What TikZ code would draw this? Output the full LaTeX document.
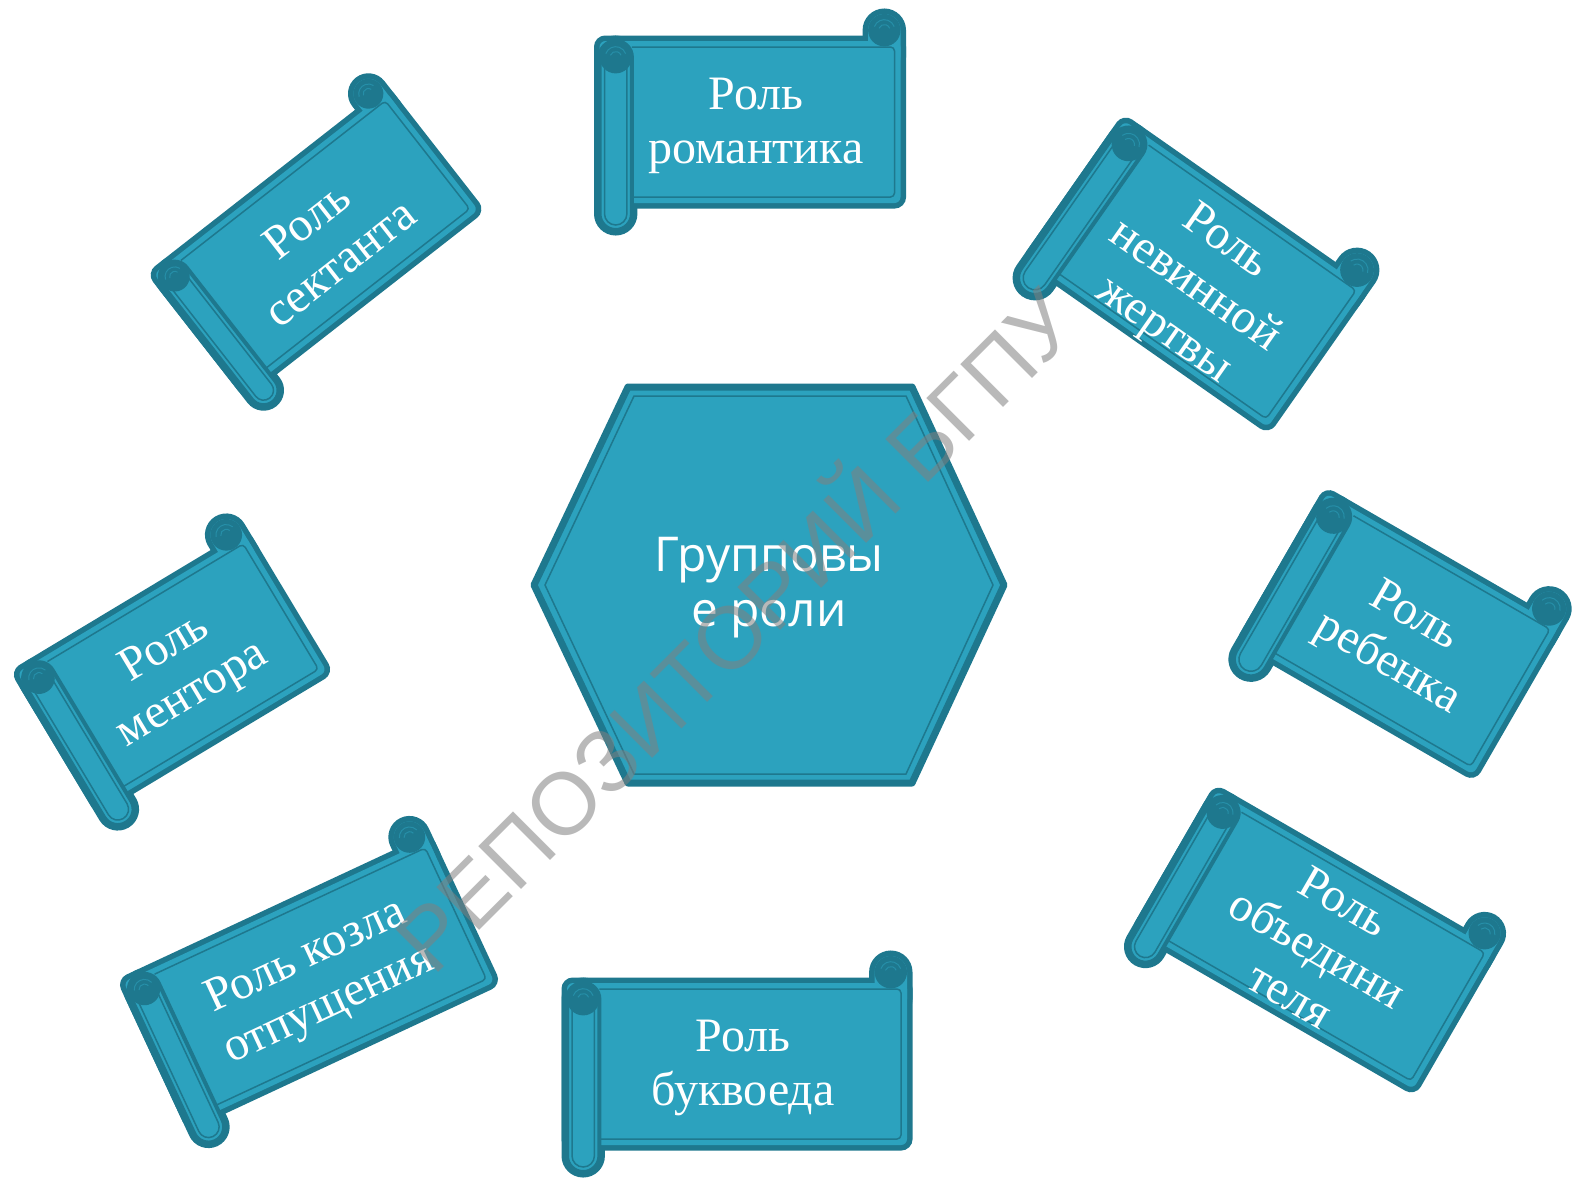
\documentclass[tikz,border=0pt]{standalone}
\usepackage{fontspec}
\newfontfamily\rollfont{Liberation Serif}
\newfontfamily\hexfont{Open Sans}
\newfontfamily\markfont{Liberation Sans}
\definecolor{rollfill}{RGB}{44,162,190}
\definecolor{rolledge}{RGB}{30,120,142}
\definecolor{markgray}{RGB}{128,128,128}

\tikzset{
  rollback/.style={draw=rolledge, fill=rolledge, line width=11pt},
  rollbody/.style={fill=rollfill},
  rollline/.style={draw=rolledge, line width=1.5pt},
  rolltext/.style={text=white, align=center, transform shape, font=\rollfont\fontsize{48}{54}\selectfont},
  hextext/.style={text=white, align=center, font=\hexfont\fontsize{48}{55}\selectfont},
}

% name, x, y, angle, width, height, text position, text
\newcommand{\rollbox}[8]{%
  \begin{scope}[shift={(#2,#3)}, rotate=#4]
    \pgfmathsetmacro{\rbW}{#5/2}
    \pgfmathsetmacro{\rbH}{#6/2}
    \pgfmathsetmacro{\rbS}{0.125*#6}
    \pgfmathsetmacro{\rbR}{0.6*\rbS}
    \pgfmathsetmacro{\rbRi}{\rbR-5}
    \foreach \st in {rollback, rollbody}{
      \path[\st, rounded corners=6pt] (-\rbW,{-\rbH+\rbS}) rectangle (\rbW,{\rbH-\rbS});
      \path[\st, rounded corners=\rbR pt] (-\rbW,{-\rbH+\rbS}) rectangle ({-\rbW+2*\rbR},\rbH);
      \path[\st, rounded corners=\rbR pt] ({\rbW-2*\rbR},-\rbH) rectangle (\rbW,{-\rbH+\rbS+2*\rbR});
    }
    \draw[rollline, rounded corners=4pt] ({-\rbW+2*\rbR},{-\rbH+\rbS+6}) -- ({\rbW-6},{-\rbH+\rbS+6}) -- ({\rbW-6},{\rbH-\rbS-6}) -- ({-\rbW+2*\rbR},{\rbH-\rbS-6});
    \draw[draw=rolledge, line width=4pt, fill=rollfill, rounded corners=\rbR pt] (-\rbW,{-\rbH+\rbS}) rectangle ({-\rbW+2*\rbR},\rbH); % Left roll.
    \draw[rollline, rounded corners=\rbRi pt] ({-\rbW+5},{-\rbH+\rbS+5}) rectangle ({-\rbW+2*\rbR-5},{\rbH-5});
    \fill[rolledge] ({\rbW-\rbR},{-\rbH+\rbR}) circle (\rbR);
    \fill[rolledge] ({-\rbW+\rbR},{-\rbH+\rbS+\rbR}) circle (\rbR);
    \foreach \k in {0.35,0.65}{
      \draw[rollfill!55!rolledge, line width=1pt] ({\rbW-\rbR},{-\rbH+\rbR}) ++(200:{\k*\rbR}) arc (200:340:{\k*\rbR});
      \draw[rollfill!55!rolledge, line width=1pt] ({-\rbW+\rbR},{-\rbH+\rbS+\rbR}) ++(200:{\k*\rbR}) arc (200:340:{\k*\rbR});
    }
    \node[rolltext] (#1) at #7 {#8};
  \end{scope}}

\begin{document}
\begin{tikzpicture}[x=1pt, y=-1pt]
  \useasboundingbox (0,0) rectangle (1576,1184);

  % Hexagon.
  \coordinate (h1) at (534,585);
  \coordinate (h2) at (628,387);
  \coordinate (h3) at (912,387);
  \coordinate (h4) at (1004,585);
  \coordinate (h5) at (912,783);
  \coordinate (h6) at (628,783);
  \draw[draw=rolledge, fill=rollfill, line width=7pt, line join=round] (h1) -- (h2) -- (h3) -- (h4) -- (h5) -- (h6) -- cycle;
  \draw[rollline] (545,585) -- (634,396) -- (906,396) -- (993,585) -- (906,774) -- (634,774) -- cycle;
  \node[hextext] (grp) at (769,588) {Групповы\\е роли};

  % Scrolls.
  \rollbox{rom}{750}{122}{0}{301}{216}{(6,4)}{Роль\\романтика}
  \rollbox{buk}{737}{1064}{0}{340}{216}{(6,4)}{Роль\\буквоеда}
  \rollbox{sek}{316}{242}{38}{295}{199}{(6,4)}{Роль\\сектанта}
  \rollbox{men}{172}{672}{31}{266}{211}{(6,4)}{Роль\\ментора}
  \rollbox{koz}{309}{982}{25}{336}{209}{(8,4)}{Роль козла\\отпущения}
  \rollbox{nev}{1196}{274}{-35}{293}{225}{(6,12)}{Роль\\невинной\\жертвы}
  \rollbox{reb}{1400}{634}{-30}{267}{227}{(4,6)}{Роль\\ребенка}
  \rollbox{obj}{1315}{940}{-30}{319}{213}{(6,6)}{Роль\\объедини\\теля}

  \node[text=markgray, text opacity=0.55, rotate=45, font=\markfont\fontsize{88}{88}\selectfont] (mark) at (730,625) {РЕПОЗИТОРИЙ БГПУ};
\end{tikzpicture}
\end{document}
